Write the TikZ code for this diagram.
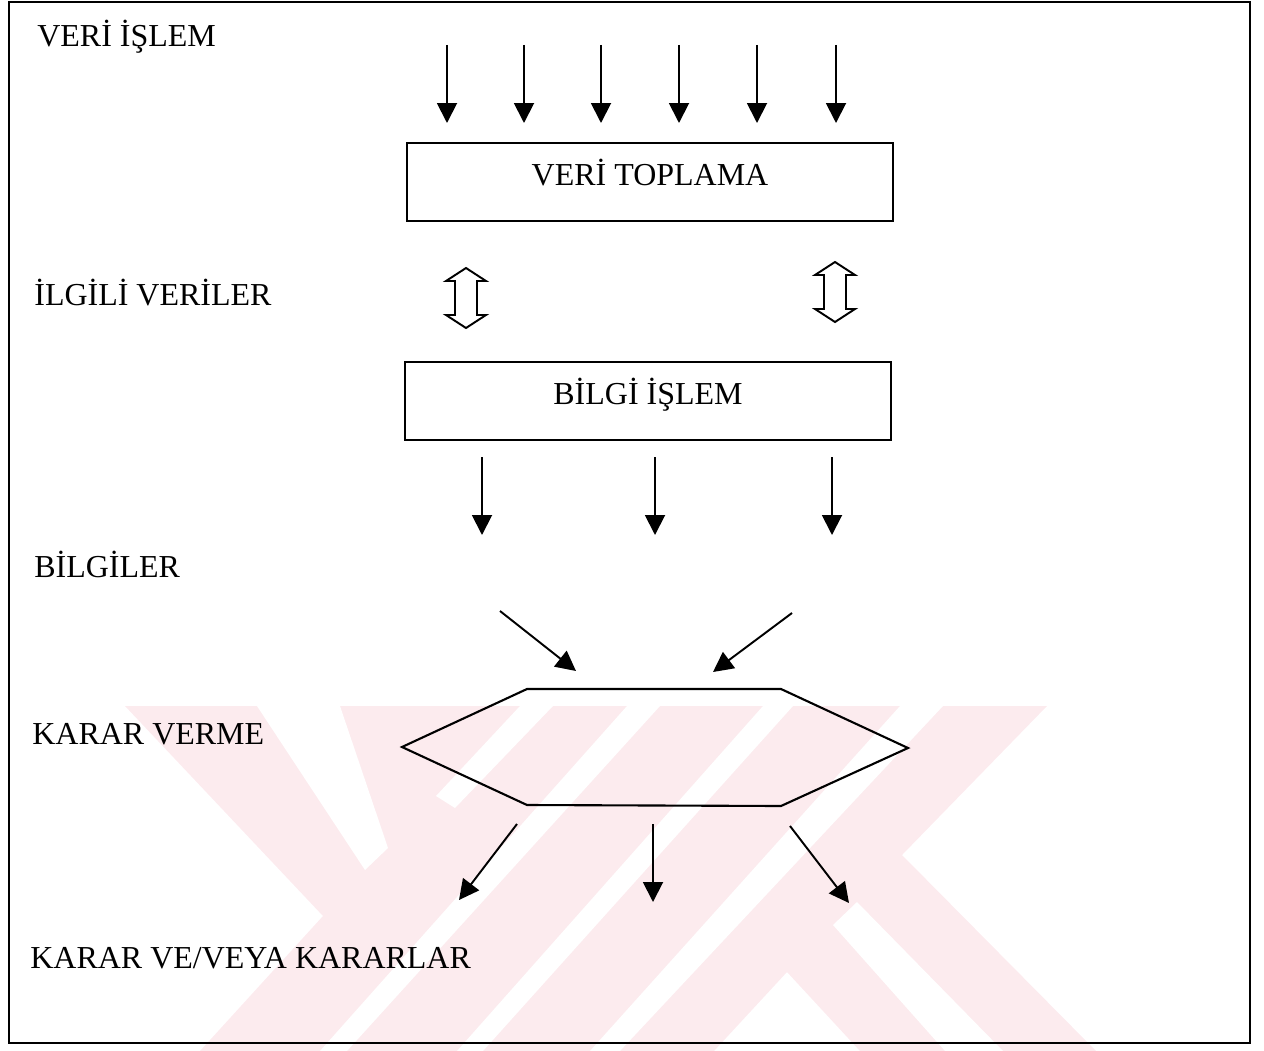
\documentclass[tikz,border=0pt]{standalone}
\usepackage{fontspec}
\setmainfont{Liberation Serif}
\usetikzlibrary{arrows.meta}
\definecolor{wmpink}{RGB}{252,235,238}

\begin{document}
\begin{tikzpicture}[
	x=0.02cm, y=-0.02cm,
	every node/.style={ font=\fontsize{18.2}{22}\selectfont },
	lbl/.style={ anchor=base west, inner sep=0pt },
	box/.style={ draw, line width=1.1pt, minimum width=9.74cm, minimum height=1.55cm, inner sep=0pt, text height=0.5cm, text depth=0.38cm },
	arr/.style={ line width=1.1pt, -{Triangle[length=0.4cm,width=0.4cm]} },
	dbl/.style={ draw, line width=1.1pt, fill=white, line join=miter },
	hexa/.style={ draw, line width=1.2pt },
	wm/.style={ fill=wmpink },
	wmgap/.style={ fill=white }
]

\useasboundingbox (0,0) rectangle (1264,1051);

% watermark
\fill[wm] (125,706) -- (1047,706) -- (902,855) -- (1096,1051) -- (860,1051) -- (787,972) -- (714,1051) -- (200,1051) -- (323,916) -- cycle;
\fill[wmgap] (257,706) -- (340,706) -- (388,848) -- (365,870) -- cycle;
\fill[wmgap] (520,706) -- (553,706) -- (455,808) -- (436,796) -- cycle;
\fill[wmgap] (627,706) -- (660,706) -- (347,1051) -- (320,1051) -- cycle;
\fill[wmgap] (763,706) -- (793,706) -- (483,1051) -- (457,1051) -- cycle;
\fill[wmgap] (900,706) -- (943,706) -- (620,1051) -- (590,1051) -- cycle;
\fill[wmgap] (857,902) -- (1003,1051) -- (945,1051) -- (833,925) -- cycle;

\draw[line width=1.3pt] (9,2) rectangle (1250,1043);

\node[lbl] (veriislem) at (37,47) {VERİ İŞLEM};
\node[lbl] (ilgili) at (34,305) {İLGİLİ VERİLER};
\node[lbl] (bilgiler) at (34,577) {BİLGİLER};
\node[lbl] (kararverme) at (32,744) {KARAR VERME};
\node[lbl] (kararlar) at (30,968) {KARAR VE/VEYA KARARLAR};

\node[box] (toplama) at (650,182) {VERİ TOPLAMA};
\node[box] (bilgiislem) at (648,401) {BİLGİ İŞLEM};

\coordinate (in1) at (447,45);  \coordinate (in1e) at (447,123);
\coordinate (in2) at (524,45);  \coordinate (in2e) at (524,123);
\coordinate (in3) at (601,45);  \coordinate (in3e) at (601,123);
\coordinate (in4) at (679,45);  \coordinate (in4e) at (679,123);
\coordinate (in5) at (757,45);  \coordinate (in5e) at (757,123);
\coordinate (in6) at (836,45);  \coordinate (in6e) at (836,123);
\draw[arr] (in1) -- (in1e);
\draw[arr] (in2) -- (in2e);
\draw[arr] (in3) -- (in3e);
\draw[arr] (in4) -- (in4e);
\draw[arr] (in5) -- (in5e);
\draw[arr] (in6) -- (in6e);

\coordinate (dl) at (466,298);
\coordinate (dr) at (835,292);
\draw[dbl, shift={(dl)}] (0,-30) -- (20,-17) -- (11,-17) -- (11,17) -- (20,17) -- (0,30) -- (-20,17) -- (-11,17) -- (-11,-17) -- (-20,-17) -- cycle;
\draw[dbl, shift={(dr)}] (0,-30) -- (20,-17) -- (11,-17) -- (11,17) -- (20,17) -- (0,30) -- (-20,17) -- (-11,17) -- (-11,-17) -- (-20,-17) -- cycle;

\coordinate (bi1) at (482,457);  \coordinate (bi1e) at (482,535);
\coordinate (bi2) at (655,457);  \coordinate (bi2e) at (655,535);
\coordinate (bi3) at (832,457);  \coordinate (bi3e) at (832,535);
\draw[arr] (bi1) -- (bi1e);
\draw[arr] (bi2) -- (bi2e);
\draw[arr] (bi3) -- (bi3e);

\coordinate (kv) at (655,748);
\draw[hexa, shift={(kv)}] (-253,-1) -- (-128,-59) -- (126,-59) -- (253,0) -- (126,58) -- (-128,57) -- cycle;

\coordinate (kl) at (500,611);  \coordinate (kle) at (576,671);
\coordinate (kr) at (792,613);  \coordinate (kre) at (713,672);
\draw[arr] (kl) -- (kle);
\draw[arr] (kr) -- (kre);

\coordinate (o1) at (517,824);  \coordinate (o1e) at (459,900);
\coordinate (o2) at (653,824);  \coordinate (o2e) at (653,902);
\coordinate (o3) at (790,826);  \coordinate (o3e) at (849,903);
\draw[arr] (o1) -- (o1e);
\draw[arr] (o2) -- (o2e);
\draw[arr] (o3) -- (o3e);

\end{tikzpicture}
\end{document}
